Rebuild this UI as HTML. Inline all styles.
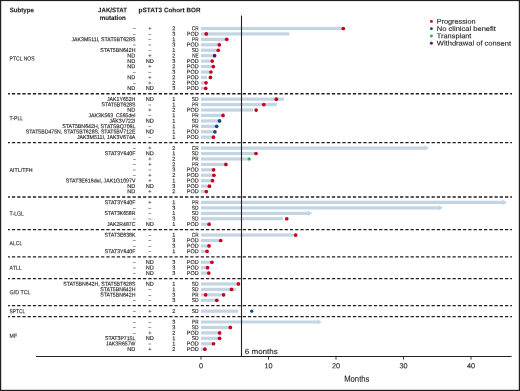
<!DOCTYPE html><html><head><meta charset="utf-8"><style>html,body{margin:0;padding:0;background:#fff;}svg{display:block;will-change:transform;}text{font-family:"Liberation Sans",sans-serif;fill:#231f20;stroke:#231f20;stroke-width:0.12px;}</style></head><body>
<svg width="520" height="391" viewBox="0 0 520 391">
<rect x="0" y="0" width="520" height="391" fill="#fff"/>
<circle cx="431.4" cy="21.40" r="1.45" fill="#c70020"/>
<circle cx="431.4" cy="28.67" r="1.45" fill="#104682"/>
<circle cx="431.4" cy="35.94" r="1.45" fill="#2db34a"/>
<circle cx="431.4" cy="43.21" r="1.45" fill="#4a1a6e"/>
<line x1="8" y1="93.73" x2="512" y2="93.73" stroke="#231f20" stroke-width="1.3" stroke-dasharray="3.25 1.9957" stroke-dashoffset="1.346"/>
<line x1="8" y1="142.65" x2="512" y2="142.65" stroke="#231f20" stroke-width="1.3" stroke-dasharray="3.25 1.9957" stroke-dashoffset="1.346"/>
<line x1="8" y1="197.00" x2="512" y2="197.00" stroke="#231f20" stroke-width="1.3" stroke-dasharray="3.25 1.9957" stroke-dashoffset="1.346"/>
<line x1="8" y1="229.62" x2="512" y2="229.62" stroke="#231f20" stroke-width="1.3" stroke-dasharray="3.25 1.9957" stroke-dashoffset="1.346"/>
<line x1="8" y1="256.80" x2="512" y2="256.80" stroke="#231f20" stroke-width="1.3" stroke-dasharray="3.25 1.9957" stroke-dashoffset="1.346"/>
<line x1="8" y1="278.54" x2="512" y2="278.54" stroke="#231f20" stroke-width="1.3" stroke-dasharray="3.25 1.9957" stroke-dashoffset="1.346"/>
<line x1="8" y1="305.72" x2="512" y2="305.72" stroke="#231f20" stroke-width="1.3" stroke-dasharray="3.25 1.9957" stroke-dashoffset="1.346"/>
<line x1="8" y1="316.59" x2="512" y2="316.59" stroke="#231f20" stroke-width="1.3" stroke-dasharray="3.25 1.9957" stroke-dashoffset="1.346"/>
<rect x="201" y="26.90" width="141.00" height="3.2" fill="#c3d4e3"/>
<rect x="201" y="32.34" width="88.40" height="3.2" fill="#c3d4e3"/>
<rect x="201" y="37.77" width="24.50" height="3.2" fill="#c3d4e3"/>
<rect x="201" y="43.21" width="17.00" height="3.2" fill="#c3d4e3"/>
<rect x="201" y="48.64" width="15.60" height="3.2" fill="#c3d4e3"/>
<rect x="201" y="54.08" width="11.90" height="3.2" fill="#c3d4e3"/>
<rect x="201" y="59.51" width="9.60" height="3.2" fill="#c3d4e3"/>
<rect x="201" y="64.95" width="10.70" height="3.2" fill="#c3d4e3"/>
<rect x="201" y="70.38" width="8.30" height="3.2" fill="#c3d4e3"/>
<rect x="201" y="75.82" width="6.00" height="3.2" fill="#c3d4e3"/>
<rect x="201" y="81.26" width="3.40" height="3.2" fill="#c3d4e3"/>
<rect x="201" y="86.69" width="3.00" height="3.2" fill="#c3d4e3"/>
<rect x="201" y="97.56" width="82.80" height="3.2" fill="#c3d4e3"/>
<rect x="201" y="103.00" width="75.70" height="3.2" fill="#c3d4e3"/>
<rect x="201" y="108.43" width="52.20" height="3.2" fill="#c3d4e3"/>
<rect x="201" y="113.87" width="20.50" height="3.2" fill="#c3d4e3"/>
<rect x="201" y="119.31" width="17.20" height="3.2" fill="#c3d4e3"/>
<rect x="201" y="124.74" width="14.30" height="3.2" fill="#c3d4e3"/>
<rect x="201" y="130.18" width="12.40" height="3.2" fill="#c3d4e3"/>
<rect x="201" y="135.61" width="10.80" height="3.2" fill="#c3d4e3"/>
<path d="M201 146.48 H424.80 V145.48 L429.00 148.08 L424.80 150.68 V149.68 H201 Z" fill="#c3d4e3"/>
<rect x="201" y="151.92" width="53.50" height="3.2" fill="#c3d4e3"/>
<rect x="201" y="157.35" width="46.80" height="3.2" fill="#c3d4e3"/>
<rect x="201" y="162.79" width="23.20" height="3.2" fill="#c3d4e3"/>
<rect x="201" y="168.23" width="11.10" height="3.2" fill="#c3d4e3"/>
<rect x="201" y="173.66" width="11.50" height="3.2" fill="#c3d4e3"/>
<rect x="201" y="179.10" width="10.20" height="3.2" fill="#c3d4e3"/>
<rect x="201" y="184.53" width="7.10" height="3.2" fill="#c3d4e3"/>
<rect x="201" y="189.97" width="3.70" height="3.2" fill="#c3d4e3"/>
<path d="M201 200.84 H502.80 V199.84 L507.00 202.44 L502.80 205.04 V204.04 H201 Z" fill="#c3d4e3"/>
<path d="M201 206.27 H438.80 V205.27 L443.00 207.87 L438.80 210.47 V209.47 H201 Z" fill="#c3d4e3"/>
<path d="M201 211.71 H308.10 V210.71 L312.30 213.31 L308.10 215.91 V214.91 H201 Z" fill="#c3d4e3"/>
<rect x="201" y="217.15" width="82.00" height="3.2" fill="#c3d4e3"/>
<rect x="201" y="222.58" width="6.70" height="3.2" fill="#c3d4e3"/>
<rect x="201" y="233.45" width="93.50" height="3.2" fill="#c3d4e3"/>
<rect x="201" y="238.89" width="18.00" height="3.2" fill="#c3d4e3"/>
<rect x="201" y="244.32" width="6.40" height="3.2" fill="#c3d4e3"/>
<rect x="201" y="249.76" width="4.70" height="3.2" fill="#c3d4e3"/>
<rect x="201" y="260.63" width="9.40" height="3.2" fill="#c3d4e3"/>
<rect x="201" y="266.07" width="5.20" height="3.2" fill="#c3d4e3"/>
<rect x="201" y="271.50" width="6.40" height="3.2" fill="#c3d4e3"/>
<rect x="201" y="282.37" width="36.40" height="3.2" fill="#c3d4e3"/>
<rect x="201" y="287.81" width="34.60" height="3.2" fill="#c3d4e3"/>
<rect x="201" y="293.24" width="23.50" height="3.2" fill="#c3d4e3"/>
<rect x="201" y="298.68" width="14.60" height="3.2" fill="#c3d4e3"/>
<rect x="201" y="309.55" width="37.20" height="3.2" fill="#c3d4e3"/>
<path d="M201 320.42 H317.70 V319.42 L321.90 322.02 L317.70 324.62 V323.62 H201 Z" fill="#c3d4e3"/>
<rect x="201" y="325.86" width="27.70" height="3.2" fill="#c3d4e3"/>
<rect x="201" y="331.29" width="17.20" height="3.2" fill="#c3d4e3"/>
<rect x="201" y="336.73" width="17.20" height="3.2" fill="#c3d4e3"/>
<rect x="201" y="342.16" width="11.10" height="3.2" fill="#c3d4e3"/>
<rect x="201" y="347.60" width="2.20" height="3.2" fill="#c3d4e3"/>
<line x1="241.5" y1="15.4" x2="241.5" y2="356.5" stroke="#231f20" stroke-width="1.1"/>
<circle cx="343.30" cy="28.50" r="1.85" fill="#c70020"/>
<circle cx="206.25" cy="33.94" r="1.85" fill="#c70020"/>
<circle cx="226.75" cy="39.37" r="1.85" fill="#c70020"/>
<circle cx="219.30" cy="44.81" r="1.85" fill="#c70020"/>
<circle cx="218.20" cy="50.24" r="1.85" fill="#c70020"/>
<circle cx="214.60" cy="55.68" r="1.85" fill="#4a1a6e"/>
<circle cx="212.20" cy="61.11" r="1.85" fill="#c70020"/>
<circle cx="213.30" cy="66.55" r="1.85" fill="#c70020"/>
<circle cx="210.90" cy="71.98" r="1.85" fill="#c70020"/>
<circle cx="210.40" cy="77.42" r="1.85" fill="#c70020"/>
<circle cx="206.00" cy="82.86" r="1.85" fill="#c70020"/>
<circle cx="205.70" cy="88.29" r="1.85" fill="#c70020"/>
<circle cx="276.30" cy="99.16" r="1.85" fill="#c70020"/>
<circle cx="263.80" cy="104.60" r="1.85" fill="#c70020"/>
<circle cx="256.10" cy="110.03" r="1.85" fill="#c70020"/>
<circle cx="223.00" cy="115.47" r="1.85" fill="#c70020"/>
<circle cx="219.50" cy="120.91" r="1.85" fill="#104682"/>
<circle cx="216.70" cy="126.34" r="1.85" fill="#104682"/>
<circle cx="214.90" cy="131.78" r="1.85" fill="#104682"/>
<circle cx="213.40" cy="137.21" r="1.85" fill="#c70020"/>
<circle cx="256.00" cy="153.52" r="1.85" fill="#c70020"/>
<path d="M247.10 158.95 L249.10 156.95 L251.10 158.95 L249.10 160.95 Z" fill="#2db34a"/>
<circle cx="225.90" cy="164.39" r="1.85" fill="#c70020"/>
<circle cx="213.60" cy="169.83" r="1.85" fill="#c70020"/>
<circle cx="213.90" cy="175.26" r="1.85" fill="#c70020"/>
<circle cx="212.50" cy="180.70" r="1.85" fill="#c70020"/>
<circle cx="209.40" cy="186.13" r="1.85" fill="#c70020"/>
<circle cx="206.30" cy="191.57" r="1.85" fill="#c70020"/>
<circle cx="286.75" cy="218.75" r="1.85" fill="#c70020"/>
<circle cx="209.10" cy="224.18" r="1.85" fill="#c70020"/>
<circle cx="295.75" cy="235.05" r="1.85" fill="#c70020"/>
<circle cx="220.70" cy="240.49" r="1.85" fill="#c70020"/>
<circle cx="209.00" cy="245.92" r="1.85" fill="#c70020"/>
<circle cx="207.00" cy="251.36" r="1.85" fill="#c70020"/>
<circle cx="211.90" cy="262.23" r="1.85" fill="#c70020"/>
<circle cx="207.60" cy="267.67" r="1.85" fill="#c70020"/>
<circle cx="208.80" cy="273.10" r="1.85" fill="#c70020"/>
<circle cx="238.40" cy="283.97" r="1.85" fill="#c70020"/>
<circle cx="231.50" cy="289.41" r="1.85" fill="#c70020"/>
<circle cx="205.60" cy="294.84" r="1.85" fill="#c70020"/>
<circle cx="223.60" cy="294.84" r="1.85" fill="#c70020"/>
<circle cx="216.80" cy="300.28" r="1.85" fill="#c70020"/>
<circle cx="251.70" cy="311.15" r="1.65" fill="#104682"/>
<circle cx="230.30" cy="327.46" r="1.85" fill="#c70020"/>
<circle cx="219.60" cy="332.89" r="1.85" fill="#c70020"/>
<circle cx="219.60" cy="338.33" r="1.85" fill="#c70020"/>
<circle cx="213.50" cy="343.76" r="1.85" fill="#c70020"/>
<circle cx="204.90" cy="349.20" r="1.85" fill="#c70020"/>
<line x1="36" y1="356.5" x2="511.6" y2="356.5" stroke="#231f20" stroke-width="1.1"/>
<line x1="201.00" y1="356.5" x2="201.00" y2="359.6" stroke="#231f20" stroke-width="0.9"/>
<line x1="268.50" y1="356.5" x2="268.50" y2="359.6" stroke="#231f20" stroke-width="0.9"/>
<line x1="336.00" y1="356.5" x2="336.00" y2="359.6" stroke="#231f20" stroke-width="0.9"/>
<line x1="403.50" y1="356.5" x2="403.50" y2="359.6" stroke="#231f20" stroke-width="0.9"/>
<line x1="471.00" y1="356.5" x2="471.00" y2="359.6" stroke="#231f20" stroke-width="0.9"/>
<rect x="0.6" y="0.5" width="518.8" height="389.9" fill="none" stroke="#231f20" stroke-width="1.2"/>
<g transform="matrix(1 0.001 0 1 0 0)">
<g font-weight="bold" font-size="6.6" style="stroke-width:0">
<text x="9.80" y="12.278" textLength="24.00" lengthAdjust="spacingAndGlyphs">Subtype</text>
<text x="98.10" y="12.187" textLength="28.90" lengthAdjust="spacingAndGlyphs">JAK/STAT</text>
<text x="99.70" y="19.787" textLength="26.10" lengthAdjust="spacingAndGlyphs">mutation</text>
<text x="138.50" y="12.150" textLength="23.50" lengthAdjust="spacingAndGlyphs">pSTAT3</text>
<text x="163.90" y="12.126" textLength="20.80" lengthAdjust="spacingAndGlyphs">Cohort</text>
<text x="186.50" y="12.107" textLength="13.90" lengthAdjust="spacingAndGlyphs">BOR</text>
</g>
<g style="stroke-width:0.06px">
<text x="436.80" y="23.344" font-size="6.9" textLength="38.70" lengthAdjust="spacingAndGlyphs">Progression</text>
<text x="436.80" y="30.604" font-size="6.9" textLength="59.10" lengthAdjust="spacingAndGlyphs">No clinical benefit</text>
<text x="436.80" y="37.886" font-size="6.9" textLength="34.60" lengthAdjust="spacingAndGlyphs">Transplant</text>
<text x="436.80" y="45.136" font-size="6.9" textLength="74.20" lengthAdjust="spacingAndGlyphs">Withdrawal of consent</text>
</g>
<g style="stroke-width:0.04px">
<text x="9.60" y="60.524" font-size="5.9" textLength="25.00" lengthAdjust="spacingAndGlyphs">PTCL NOS</text>
<text x="9.60" y="120.321" font-size="5.9" textLength="13.50" lengthAdjust="spacingAndGlyphs">T-PLL</text>
<text x="9.60" y="171.955" font-size="5.9" textLength="22.90" lengthAdjust="spacingAndGlyphs">AITL/TFH</text>
<text x="9.60" y="215.444" font-size="5.9" textLength="14.30" lengthAdjust="spacingAndGlyphs">T-LGL</text>
<text x="9.60" y="245.340" font-size="5.9" textLength="12.60" lengthAdjust="spacingAndGlyphs">ALCL</text>
<text x="9.60" y="269.801" font-size="5.9" textLength="12.10" lengthAdjust="spacingAndGlyphs">ATLL</text>
<text x="9.60" y="294.256" font-size="5.9" textLength="21.00" lengthAdjust="spacingAndGlyphs">G/D TCL</text>
<text x="9.60" y="313.284" font-size="5.9" textLength="15.60" lengthAdjust="spacingAndGlyphs">SPTCL</text>
<text x="9.60" y="337.748" font-size="5.9" textLength="7.50" lengthAdjust="spacingAndGlyphs">MF</text>
</g>
<g font-size="5.6">
<text x="132.90" y="30.166" textLength="2.60" lengthAdjust="spacingAndGlyphs">–</text>
<text x="149.80" y="30.150" text-anchor="middle">+</text>
<text x="173.80" y="30.126" text-anchor="middle">2</text>
<text x="191.80" y="30.105" textLength="6.80" lengthAdjust="spacingAndGlyphs">CR</text>
<text x="132.90" y="35.601" textLength="2.60" lengthAdjust="spacingAndGlyphs">–</text>
<text x="148.50" y="35.586" textLength="2.60" lengthAdjust="spacingAndGlyphs">–</text>
<text x="173.80" y="35.562" text-anchor="middle">3</text>
<text x="186.80" y="35.543" textLength="11.80" lengthAdjust="spacingAndGlyphs">POD</text>
<text x="71.50" y="41.068" textLength="63.90" lengthAdjust="spacingAndGlyphs">JAK3M511I, STAT5BT628S</text>
<text x="148.50" y="41.021" textLength="2.60" lengthAdjust="spacingAndGlyphs">–</text>
<text x="173.80" y="40.997" text-anchor="middle">1</text>
<text x="192.10" y="40.976" textLength="6.50" lengthAdjust="spacingAndGlyphs">PR</text>
<text x="132.90" y="46.473" textLength="2.60" lengthAdjust="spacingAndGlyphs">–</text>
<text x="148.50" y="46.457" textLength="2.60" lengthAdjust="spacingAndGlyphs">–</text>
<text x="173.80" y="46.433" text-anchor="middle">3</text>
<text x="186.80" y="46.414" textLength="11.80" lengthAdjust="spacingAndGlyphs">POD</text>
<text x="100.30" y="51.925" textLength="35.10" lengthAdjust="spacingAndGlyphs">STAT5BN642H</text>
<text x="148.50" y="51.893" textLength="2.60" lengthAdjust="spacingAndGlyphs">–</text>
<text x="173.80" y="51.869" text-anchor="middle">1</text>
<text x="191.80" y="51.847" textLength="6.80" lengthAdjust="spacingAndGlyphs">SD</text>
<text x="135.40" y="57.346" text-anchor="end">ND</text>
<text x="149.80" y="57.328" text-anchor="middle">+</text>
<text x="173.80" y="57.304" text-anchor="middle">2</text>
<text x="192.30" y="57.283" textLength="6.30" lengthAdjust="spacingAndGlyphs">NE</text>
<text x="135.40" y="62.782" text-anchor="end">ND</text>
<text x="149.80" y="62.764" text-anchor="middle">ND</text>
<text x="173.80" y="62.740" text-anchor="middle">3</text>
<text x="186.80" y="62.721" textLength="11.80" lengthAdjust="spacingAndGlyphs">POD</text>
<text x="135.40" y="68.217" text-anchor="end">ND</text>
<text x="149.80" y="68.199" text-anchor="middle">+</text>
<text x="173.80" y="68.175" text-anchor="middle">2</text>
<text x="186.80" y="68.156" textLength="11.80" lengthAdjust="spacingAndGlyphs">POD</text>
<text x="132.90" y="73.651" textLength="2.60" lengthAdjust="spacingAndGlyphs">–</text>
<text x="148.50" y="73.635" textLength="2.60" lengthAdjust="spacingAndGlyphs">–</text>
<text x="173.80" y="73.611" text-anchor="middle">3</text>
<text x="186.80" y="73.592" textLength="11.80" lengthAdjust="spacingAndGlyphs">POD</text>
<text x="135.40" y="79.088" text-anchor="end">ND</text>
<text x="149.80" y="79.071" text-anchor="middle">+</text>
<text x="173.80" y="79.047" text-anchor="middle">2</text>
<text x="186.80" y="79.028" textLength="11.80" lengthAdjust="spacingAndGlyphs">POD</text>
<text x="132.90" y="84.522" textLength="2.60" lengthAdjust="spacingAndGlyphs">–</text>
<text x="149.80" y="84.506" text-anchor="middle">+</text>
<text x="173.80" y="84.482" text-anchor="middle">2</text>
<text x="186.80" y="84.463" textLength="11.80" lengthAdjust="spacingAndGlyphs">POD</text>
<text x="135.40" y="89.960" text-anchor="end">ND</text>
<text x="149.80" y="89.942" text-anchor="middle">ND</text>
<text x="173.80" y="89.918" text-anchor="middle">3</text>
<text x="186.80" y="89.899" textLength="11.80" lengthAdjust="spacingAndGlyphs">POD</text>
<text x="106.90" y="100.842" textLength="28.50" lengthAdjust="spacingAndGlyphs">JAK1Y652H</text>
<text x="149.80" y="100.813" text-anchor="middle">ND</text>
<text x="173.80" y="100.789" text-anchor="middle">1</text>
<text x="191.80" y="100.768" textLength="6.80" lengthAdjust="spacingAndGlyphs">SD</text>
<text x="101.50" y="106.280" textLength="33.90" lengthAdjust="spacingAndGlyphs">STAT5BT628S</text>
<text x="148.50" y="106.249" textLength="2.60" lengthAdjust="spacingAndGlyphs">–</text>
<text x="173.80" y="106.225" text-anchor="middle">1</text>
<text x="192.10" y="106.203" textLength="6.50" lengthAdjust="spacingAndGlyphs">PR</text>
<text x="135.40" y="111.702" text-anchor="end">ND</text>
<text x="149.80" y="111.684" text-anchor="middle">+</text>
<text x="173.80" y="111.660" text-anchor="middle">2</text>
<text x="186.80" y="111.641" textLength="11.80" lengthAdjust="spacingAndGlyphs">POD</text>
<text x="88.50" y="117.158" textLength="46.90" lengthAdjust="spacingAndGlyphs">JAK3K563_C565del</text>
<text x="148.50" y="117.120" textLength="2.60" lengthAdjust="spacingAndGlyphs">–</text>
<text x="173.80" y="117.096" text-anchor="middle">1</text>
<text x="192.10" y="117.074" textLength="6.50" lengthAdjust="spacingAndGlyphs">PR</text>
<text x="109.20" y="122.583" textLength="26.20" lengthAdjust="spacingAndGlyphs">JAK3V722I</text>
<text x="149.80" y="122.555" text-anchor="middle">ND</text>
<text x="173.80" y="122.531" text-anchor="middle">1</text>
<text x="191.80" y="122.510" textLength="6.80" lengthAdjust="spacingAndGlyphs">SD</text>
<text x="62.30" y="128.042" textLength="73.10" lengthAdjust="spacingAndGlyphs">STAT5BN642H, STAT5BQ706L</text>
<text x="148.50" y="127.991" textLength="2.60" lengthAdjust="spacingAndGlyphs">–</text>
<text x="173.80" y="127.967" text-anchor="middle">1</text>
<text x="192.10" y="127.945" textLength="6.50" lengthAdjust="spacingAndGlyphs">PR</text>
<text x="25.80" y="133.496" textLength="109.60" lengthAdjust="spacingAndGlyphs">STAT5BD475N, STAT5BT628S, STAT5BV712E</text>
<text x="149.80" y="133.427" text-anchor="middle">ND</text>
<text x="173.80" y="133.403" text-anchor="middle">1</text>
<text x="186.80" y="133.384" textLength="11.80" lengthAdjust="spacingAndGlyphs">POD</text>
<text x="76.90" y="138.906" textLength="58.50" lengthAdjust="spacingAndGlyphs">JAK3M511I, JAK3V674A</text>
<text x="148.50" y="138.862" textLength="2.60" lengthAdjust="spacingAndGlyphs">–</text>
<text x="173.80" y="138.838" text-anchor="middle">1</text>
<text x="186.80" y="138.819" textLength="11.80" lengthAdjust="spacingAndGlyphs">POD</text>
<text x="132.90" y="149.749" textLength="2.60" lengthAdjust="spacingAndGlyphs">–</text>
<text x="149.80" y="149.733" text-anchor="middle">+</text>
<text x="173.80" y="149.709" text-anchor="middle">2</text>
<text x="191.80" y="149.688" textLength="6.80" lengthAdjust="spacingAndGlyphs">CR</text>
<text x="104.70" y="155.199" textLength="30.70" lengthAdjust="spacingAndGlyphs">STAT3Y640F</text>
<text x="149.80" y="155.169" text-anchor="middle">ND</text>
<text x="173.80" y="155.145" text-anchor="middle">1</text>
<text x="191.80" y="155.124" textLength="6.80" lengthAdjust="spacingAndGlyphs">SD</text>
<text x="132.90" y="160.620" textLength="2.60" lengthAdjust="spacingAndGlyphs">–</text>
<text x="149.80" y="160.605" text-anchor="middle">+</text>
<text x="173.80" y="160.581" text-anchor="middle">2</text>
<text x="192.10" y="160.559" textLength="6.50" lengthAdjust="spacingAndGlyphs">PR</text>
<text x="132.90" y="166.056" textLength="2.60" lengthAdjust="spacingAndGlyphs">–</text>
<text x="149.80" y="166.040" text-anchor="middle">+</text>
<text x="173.80" y="166.016" text-anchor="middle">2</text>
<text x="192.10" y="165.995" textLength="6.50" lengthAdjust="spacingAndGlyphs">PR</text>
<text x="132.90" y="171.491" textLength="2.60" lengthAdjust="spacingAndGlyphs">–</text>
<text x="148.50" y="171.476" textLength="2.60" lengthAdjust="spacingAndGlyphs">–</text>
<text x="173.80" y="171.452" text-anchor="middle">3</text>
<text x="186.80" y="171.433" textLength="11.80" lengthAdjust="spacingAndGlyphs">POD</text>
<text x="132.90" y="176.927" textLength="2.60" lengthAdjust="spacingAndGlyphs">–</text>
<text x="149.80" y="176.911" text-anchor="middle">+</text>
<text x="173.80" y="176.887" text-anchor="middle">2</text>
<text x="186.80" y="176.869" textLength="11.80" lengthAdjust="spacingAndGlyphs">POD</text>
<text x="65.80" y="182.396" textLength="69.60" lengthAdjust="spacingAndGlyphs">STAT3E616del, JAK1G1097V</text>
<text x="149.80" y="182.347" text-anchor="middle">+</text>
<text x="173.80" y="182.323" text-anchor="middle">1</text>
<text x="186.80" y="182.304" textLength="11.80" lengthAdjust="spacingAndGlyphs">POD</text>
<text x="135.40" y="187.800" text-anchor="end">ND</text>
<text x="149.80" y="187.783" text-anchor="middle">ND</text>
<text x="173.80" y="187.759" text-anchor="middle">3</text>
<text x="186.80" y="187.740" textLength="11.80" lengthAdjust="spacingAndGlyphs">POD</text>
<text x="135.40" y="193.236" text-anchor="end">ND</text>
<text x="149.80" y="193.218" text-anchor="middle">+</text>
<text x="173.80" y="193.194" text-anchor="middle">2</text>
<text x="186.80" y="193.175" textLength="11.80" lengthAdjust="spacingAndGlyphs">POD</text>
<text x="104.70" y="204.119" textLength="30.70" lengthAdjust="spacingAndGlyphs">STAT3Y640F</text>
<text x="149.80" y="204.089" text-anchor="middle">+</text>
<text x="173.80" y="204.065" text-anchor="middle">1</text>
<text x="192.10" y="204.044" textLength="6.50" lengthAdjust="spacingAndGlyphs">PR</text>
<text x="132.90" y="209.541" textLength="2.60" lengthAdjust="spacingAndGlyphs">–</text>
<text x="148.50" y="209.525" textLength="2.60" lengthAdjust="spacingAndGlyphs">–</text>
<text x="173.80" y="209.501" text-anchor="middle">3</text>
<text x="191.80" y="209.480" textLength="6.80" lengthAdjust="spacingAndGlyphs">SD</text>
<text x="104.60" y="214.990" textLength="30.80" lengthAdjust="spacingAndGlyphs">STAT3K658R</text>
<text x="148.50" y="214.961" textLength="2.60" lengthAdjust="spacingAndGlyphs">–</text>
<text x="173.80" y="214.937" text-anchor="middle">1</text>
<text x="191.80" y="214.915" textLength="6.80" lengthAdjust="spacingAndGlyphs">SD</text>
<text x="132.90" y="220.412" textLength="2.60" lengthAdjust="spacingAndGlyphs">–</text>
<text x="148.50" y="220.396" textLength="2.60" lengthAdjust="spacingAndGlyphs">–</text>
<text x="173.80" y="220.372" text-anchor="middle">3</text>
<text x="191.80" y="220.351" textLength="6.80" lengthAdjust="spacingAndGlyphs">SD</text>
<text x="106.90" y="225.860" textLength="28.50" lengthAdjust="spacingAndGlyphs">JAK2R487C</text>
<text x="149.80" y="225.832" text-anchor="middle">ND</text>
<text x="173.80" y="225.808" text-anchor="middle">1</text>
<text x="186.80" y="225.789" textLength="11.80" lengthAdjust="spacingAndGlyphs">POD</text>
<text x="104.60" y="236.733" textLength="30.80" lengthAdjust="spacingAndGlyphs">STAT3E638K</text>
<text x="148.50" y="236.703" textLength="2.60" lengthAdjust="spacingAndGlyphs">–</text>
<text x="173.80" y="236.679" text-anchor="middle">1</text>
<text x="191.80" y="236.658" textLength="6.80" lengthAdjust="spacingAndGlyphs">CR</text>
<text x="132.90" y="242.154" textLength="2.60" lengthAdjust="spacingAndGlyphs">–</text>
<text x="148.50" y="242.139" textLength="2.60" lengthAdjust="spacingAndGlyphs">–</text>
<text x="173.80" y="242.115" text-anchor="middle">3</text>
<text x="186.80" y="242.096" textLength="11.80" lengthAdjust="spacingAndGlyphs">POD</text>
<text x="132.90" y="247.590" textLength="2.60" lengthAdjust="spacingAndGlyphs">–</text>
<text x="148.50" y="247.574" textLength="2.60" lengthAdjust="spacingAndGlyphs">–</text>
<text x="173.80" y="247.550" text-anchor="middle">3</text>
<text x="186.80" y="247.531" textLength="11.80" lengthAdjust="spacingAndGlyphs">POD</text>
<text x="104.70" y="253.040" textLength="30.70" lengthAdjust="spacingAndGlyphs">STAT3Y640F</text>
<text x="148.50" y="253.010" textLength="2.60" lengthAdjust="spacingAndGlyphs">–</text>
<text x="173.80" y="252.986" text-anchor="middle">1</text>
<text x="186.80" y="252.967" textLength="11.80" lengthAdjust="spacingAndGlyphs">POD</text>
<text x="132.90" y="263.897" textLength="2.60" lengthAdjust="spacingAndGlyphs">–</text>
<text x="149.80" y="263.881" text-anchor="middle">ND</text>
<text x="173.80" y="263.857" text-anchor="middle">3</text>
<text x="186.80" y="263.838" textLength="11.80" lengthAdjust="spacingAndGlyphs">POD</text>
<text x="132.90" y="269.332" textLength="2.60" lengthAdjust="spacingAndGlyphs">–</text>
<text x="149.80" y="269.317" text-anchor="middle">ND</text>
<text x="173.80" y="269.293" text-anchor="middle">3</text>
<text x="186.80" y="269.274" textLength="11.80" lengthAdjust="spacingAndGlyphs">POD</text>
<text x="132.90" y="274.768" textLength="2.60" lengthAdjust="spacingAndGlyphs">–</text>
<text x="149.80" y="274.752" text-anchor="middle">ND</text>
<text x="173.80" y="274.728" text-anchor="middle">3</text>
<text x="186.80" y="274.709" textLength="11.80" lengthAdjust="spacingAndGlyphs">POD</text>
<text x="63.20" y="285.674" textLength="72.20" lengthAdjust="spacingAndGlyphs">STAT5BN642H, STAT5BT628S</text>
<text x="149.80" y="285.623" text-anchor="middle">ND</text>
<text x="173.80" y="285.599" text-anchor="middle">1</text>
<text x="191.80" y="285.578" textLength="6.80" lengthAdjust="spacingAndGlyphs">SD</text>
<text x="100.30" y="291.091" textLength="35.10" lengthAdjust="spacingAndGlyphs">STAT5BN642H</text>
<text x="148.50" y="291.059" textLength="2.60" lengthAdjust="spacingAndGlyphs">–</text>
<text x="173.80" y="291.035" text-anchor="middle">1</text>
<text x="191.80" y="291.014" textLength="6.80" lengthAdjust="spacingAndGlyphs">SD</text>
<text x="100.30" y="296.527" textLength="35.10" lengthAdjust="spacingAndGlyphs">STAT5BN642H</text>
<text x="148.50" y="296.495" textLength="2.60" lengthAdjust="spacingAndGlyphs">–</text>
<text x="173.80" y="296.471" text-anchor="middle">3</text>
<text x="192.10" y="296.449" textLength="6.50" lengthAdjust="spacingAndGlyphs">PR</text>
<text x="132.90" y="301.946" textLength="2.60" lengthAdjust="spacingAndGlyphs">–</text>
<text x="148.50" y="301.930" textLength="2.60" lengthAdjust="spacingAndGlyphs">–</text>
<text x="173.80" y="301.906" text-anchor="middle">3</text>
<text x="191.80" y="301.885" textLength="6.80" lengthAdjust="spacingAndGlyphs">SD</text>
<text x="132.90" y="312.817" textLength="2.60" lengthAdjust="spacingAndGlyphs">–</text>
<text x="149.80" y="312.801" text-anchor="middle">+</text>
<text x="173.80" y="312.777" text-anchor="middle">2</text>
<text x="191.80" y="312.756" textLength="6.80" lengthAdjust="spacingAndGlyphs">SD</text>
<text x="132.90" y="323.688" textLength="2.60" lengthAdjust="spacingAndGlyphs">–</text>
<text x="148.50" y="323.673" textLength="2.60" lengthAdjust="spacingAndGlyphs">–</text>
<text x="173.80" y="323.649" text-anchor="middle">3</text>
<text x="192.10" y="323.627" textLength="6.50" lengthAdjust="spacingAndGlyphs">PR</text>
<text x="132.90" y="329.124" textLength="2.60" lengthAdjust="spacingAndGlyphs">–</text>
<text x="148.50" y="329.108" textLength="2.60" lengthAdjust="spacingAndGlyphs">–</text>
<text x="173.80" y="329.084" text-anchor="middle">3</text>
<text x="191.80" y="329.063" textLength="6.80" lengthAdjust="spacingAndGlyphs">SD</text>
<text x="132.90" y="334.559" textLength="2.60" lengthAdjust="spacingAndGlyphs">–</text>
<text x="149.80" y="334.544" text-anchor="middle">+</text>
<text x="173.80" y="334.520" text-anchor="middle">2</text>
<text x="186.80" y="334.501" textLength="11.80" lengthAdjust="spacingAndGlyphs">POD</text>
<text x="105.00" y="340.009" textLength="30.40" lengthAdjust="spacingAndGlyphs">STAT3P715L</text>
<text x="149.80" y="339.979" text-anchor="middle">ND</text>
<text x="173.80" y="339.955" text-anchor="middle">1</text>
<text x="191.80" y="339.934" textLength="6.80" lengthAdjust="spacingAndGlyphs">SD</text>
<text x="105.80" y="345.444" textLength="29.60" lengthAdjust="spacingAndGlyphs">JAK3R657W</text>
<text x="148.50" y="345.415" textLength="2.60" lengthAdjust="spacingAndGlyphs">–</text>
<text x="173.80" y="345.391" text-anchor="middle">1</text>
<text x="186.80" y="345.372" textLength="11.80" lengthAdjust="spacingAndGlyphs">POD</text>
<text x="135.40" y="350.868" text-anchor="end">ND</text>
<text x="149.80" y="350.851" text-anchor="middle">+</text>
<text x="173.80" y="350.827" text-anchor="middle">2</text>
<text x="186.80" y="350.808" textLength="11.80" lengthAdjust="spacingAndGlyphs">POD</text>
</g>
<text x="201.00" y="368.099" font-size="7.3" text-anchor="middle">0</text>
<text x="268.50" y="368.031" font-size="7.3" text-anchor="middle">10</text>
<text x="336.00" y="367.964" font-size="7.3" text-anchor="middle">20</text>
<text x="403.50" y="367.897" font-size="7.3" text-anchor="middle">30</text>
<text x="471.00" y="367.829" font-size="7.3" text-anchor="middle">40</text>
<text x="244.80" y="353.839" font-size="7.6" textLength="33.00" lengthAdjust="spacingAndGlyphs">6 months</text>
<text x="344.20" y="381.443" font-size="8.6" textLength="25.20" lengthAdjust="spacingAndGlyphs">Months</text>
</g>
</svg></body></html>
